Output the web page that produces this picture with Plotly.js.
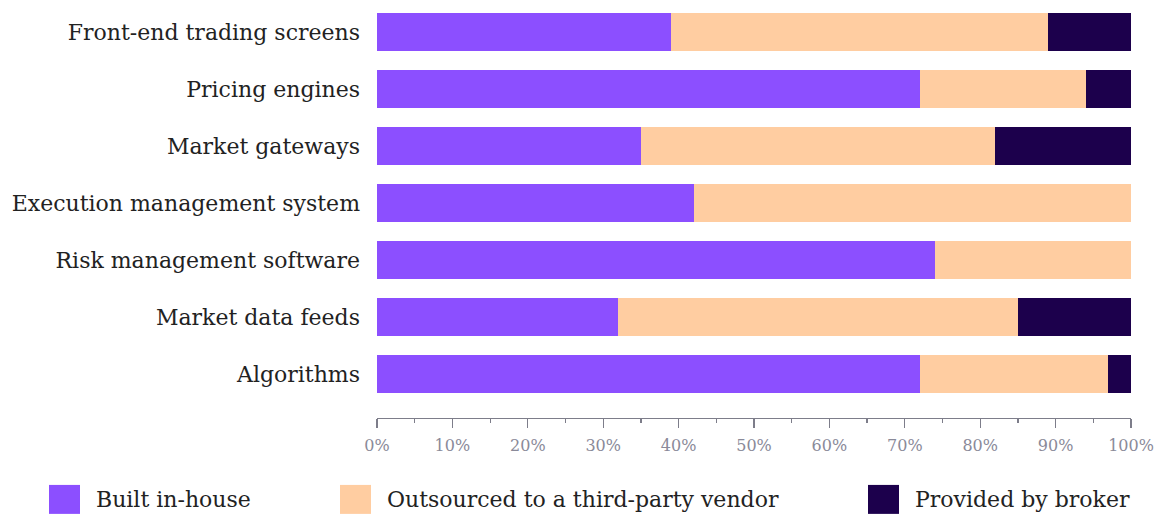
<!DOCTYPE html>
<html>
<head>
<meta charset="utf-8">
<script src="https://cdn.plot.ly/plotly-3.0.1.min.js"></script>
<style>html,body{margin:0;padding:0;background:#fff;}#chart{width:1168px;height:514px;}</style>
</head>
<body>
<div id="chart"></div>
<script>
// Categories listed bottom-to-top
const categories = ["Algorithms", "Market data feeds", "Risk management software", "Execution management system", "Market gateways", "Pricing engines", "Front-end trading screens"];
const builtInHouse = [72, 32, 74, 42, 35, 72, 39];
const outsourced   = [25, 53, 26, 58, 47, 22, 50];
const broker       = [3, 15, 0, 0, 18, 6, 11];
const seriesNames = ["Built in-house", "Outsourced to a third-party vendor", "Provided by broker"];
const seriesColors = ["#8c4fff", "#ffcda1", "#1c004c"];
const tickVals = [0,10,20,30,40,50,60,70,80,90,100];
const tickText = ["0%","10%","20%","30%","40%","50%","60%","70%","80%","90%","100%"];

const FONT = "DejaVu Serif, serif";
const seriesData = [builtInHouse, outsourced, broker];
const traces = seriesData.map((vals, i) => ({
  type: "bar", orientation: "h", y: categories, x: vals, name: seriesNames[i],
  marker: {color: seriesColors[i], line: {width: 0}}, hoverinfo: "none", showlegend: false
}));

const W = 1168, H = 514;
const plotL = 377, plotW = 754, plotT = 3.5, plotH = 418 - 3.5;
function px2x(px){ return (px - plotL) / plotW; }
function py2y(py){ return (plotT + plotH - py) / plotH; }
const legendX = [49, 340, 868];
const shapes = [], annotations = [];
legendX.forEach((lx, i) => {
  shapes.push({type: "rect", xref: "paper", yref: "paper",
    x0: px2x(lx), x1: px2x(lx + 31), y0: py2y(514), y1: py2y(485),
    line: {width: 0}, fillcolor: seriesColors[i]});
  annotations.push({xref: "paper", yref: "paper", x: px2x(lx + 45), y: py2y(500),
    xanchor: "left", yanchor: "middle", showarrow: false, text: seriesNames[i],
    font: {family: FONT, size: 22, color: "#222222"}});
});

const layout = {
  width: W, height: H,
  margin: {l: plotL, r: W - plotL - plotW, t: plotT, b: H - 418},
  paper_bgcolor: "#ffffff", plot_bgcolor: "#ffffff",
  barmode: "stack", bargap: 0.333, showlegend: false,
  xaxis: {range: [0, 100], tickvals: tickVals, ticktext: tickText, showgrid: false, zeroline: false,
    showline: true, linecolor: "#7d7d8a", linewidth: 1.2,
    ticks: "outside", ticklen: 9, tickcolor: "#7d7d8a", tickwidth: 1.2, ticklabelstandoff: 4,
    minor: {dtick: 5, ticks: "outside", ticklen: 4, tickcolor: "#7d7d8a", tickwidth: 1.2, showgrid: false},
    tickfont: {family: FONT, size: 16, color: "#8a8a99"}, fixedrange: true},
  yaxis: {type: "category", range: [-0.77, 6.5], showgrid: false, zeroline: false, showline: false,
    ticks: "", ticklabelstandoff: 16,
    tickfont: {family: FONT, size: 22, color: "#222222"}, fixedrange: true},
  shapes: shapes, annotations: annotations
};
Plotly.newPlot("chart", traces, layout, {displayModeBar: false, staticPlot: true});
</script>
</body>
</html>
